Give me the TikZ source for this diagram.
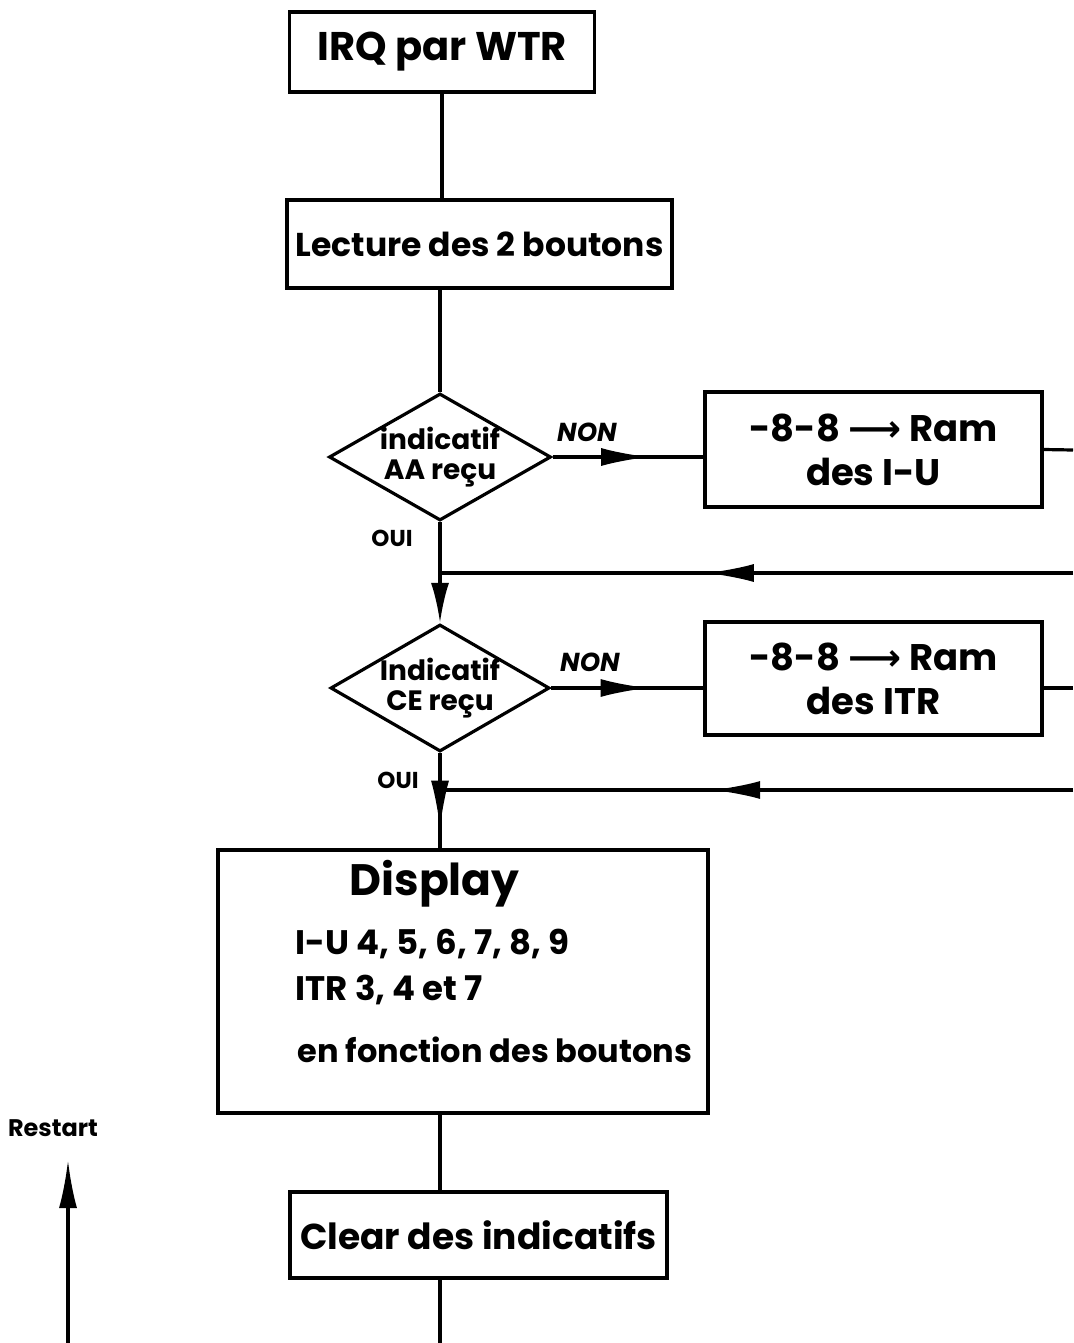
\documentclass[tikz,border=0pt]{standalone}
\usepackage{fontspec}
\setmainfont{Poppins}
\newfontfamily\symfont{DejaVu Sans}
\usetikzlibrary{shapes.geometric, arrows.meta, decorations.markings}
\tikzset{
  ln/.style={line width=3.2pt},
  box/.style={draw, line width=3.2pt, inner sep=0pt, align=center, font=\bfseries},
  dia/.style={draw, diamond, line width=3.2pt, inner sep=0pt},
  dtext/.style={align=center, font=\bfseries\fontsize{28}{30}\selectfont},
  lab/.style={font=\bfseries\itshape\fontsize{26}{28}\selectfont},
  oui/.style={font=\bfseries\fontsize{23}{25}\selectfont},
  tip/.style={Latex[length=48pt,width=18pt]},
  midarrow/.style={postaction={decorate}, decoration={markings,
     mark=at position #1 with {\arrow{Latex[length=48pt,width=18pt]}}}},
}
\begin{document}
\begin{tikzpicture}[x=1pt,y=-1pt]
\useasboundingbox (0,0) rectangle (1073,1343);
% boxes
\node[box, minimum width=305pt, minimum height=80pt, font=\bfseries\fontsize{40}{44}\selectfont] (b1) at (442,52) {IRQ par WTR};
\node[box, minimum width=385pt, minimum height=88pt, font=\bfseries\fontsize{33}{36}\selectfont] (b2) at (479.5,244) {Lecture des 2 boutons};
\node[dia, minimum width=222pt, minimum height=127pt] (d1) at (440,457) {};
\node[dtext] (t1) at (d1) {indicatif\\AA reçu};
\node[box, minimum width=337pt, minimum height=115pt, font=\bfseries\fontsize{37}{44}\selectfont] (b3) at (873.5,449.5) {-8-8 {\symfont ⟶} Ram\\des I-U};
\node[dia, minimum width=219pt, minimum height=127pt] (d2) at (440,688) {};
\node[dtext] (t2) at (d2) {Indicatif\\CE reçu};
\node[box, minimum width=337pt, minimum height=113pt, font=\bfseries\fontsize{37}{44}\selectfont] (b4) at (873.5,678.5) {-8-8 {\symfont ⟶} Ram\\des ITR};
\node[box, minimum width=490pt, minimum height=263pt] (b5) at (463,981.5) {};
\node[font=\bfseries\fontsize{44}{48}\selectfont, anchor=west] (t5a) at (346,884) {Display};
\node[font=\bfseries\fontsize{34}{38}\selectfont, anchor=west] (t5b) at (292,944) {I-U 4, 5, 6, 7, 8, 9};
\node[font=\bfseries\fontsize{34}{38}\selectfont, anchor=west] (t5c) at (292,990) {ITR 3, 4 et 7};
\node[font=\bfseries\fontsize{32}{36}\selectfont, anchor=west] (t5d) at (294,1050) {en fonction des boutons};
\node[box, minimum width=377pt, minimum height=86pt, font=\bfseries\fontsize{36}{40}\selectfont] (b6) at (478.5,1235) {Clear des indicatifs};
% labels
\node[lab] (non1) at (587,432) {NON};
\node[oui] (oui1) at (392,538) {OUI};
\node[lab] (non2) at (590,662) {NON};
\node[oui] (oui2) at (398,780) {OUI};
\node[font=\bfseries\fontsize{24}{28}\selectfont] (rst) at (53,1128) {Restart};
% coordinates
\coordinate (j1) at (440,573);
\coordinate (j2) at (440,790);
\coordinate (r1) at (1073,450);
\coordinate (r1b) at (1073,573);
\coordinate (r2) at (1073,688);
\coordinate (r2b) at (1073,790);
\coordinate (bot) at (440,1343);
\coordinate (rs0) at (68,1343);
\coordinate (rs1) at (68,1160);
% connectors
\draw[ln] (b1.south) -- (b1.south |- b2.north);
\draw[ln] (d1.north |- b2.south) -- (d1.north);
\draw[ln, midarrow=0.64] (d1.east) -- (d1.east -| b3.west);
\draw[ln] (b3.east) -- (r1);
\draw[ln, midarrow=0.58] (r1b) -- (j1);
\draw[ln] (d1.south) -- (j1);
\draw[ln, -{Latex[length=40pt,width=18pt]}] (j1) -- (d2.north);
\draw[ln, midarrow=0.64] (d2.east) -- (d2.east -| b4.west);
\draw[ln] (d2.east -| b4.east) -- (r2);
\draw[ln, midarrow=0.57] (r2b) -- (j2);
\draw[ln] (d2.south) -- (j2);
\draw[ln, midarrow=0.66] (j2) -- (j2 |- b5.north);
\draw[ln] (j2 |- b5.south) -- (j2 |- b6.north);
\draw[ln] (j2 |- b6.south) -- (bot);
\draw[ln, -{Latex[length=48pt,width=18pt]}] (rs0) -- (rs1);
\end{tikzpicture}
\end{document}
